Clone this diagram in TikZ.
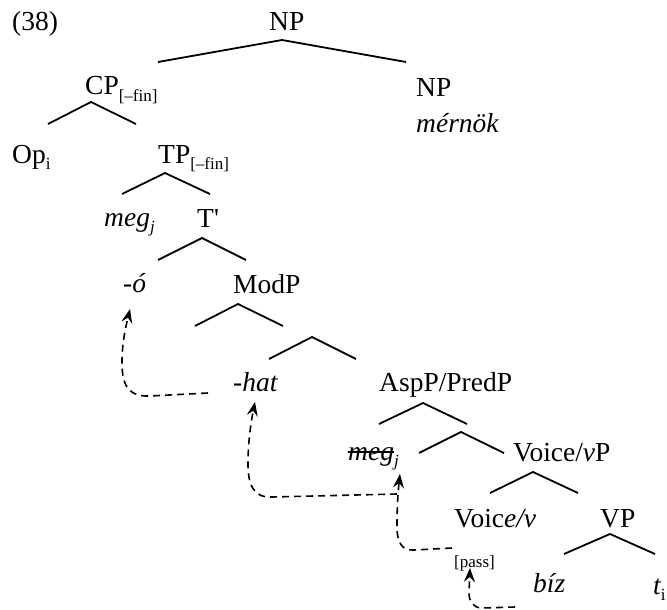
\documentclass[tikz,border=0pt]{standalone}
\usepackage{fontspec}
\setmainfont{Liberation Serif}
\usetikzlibrary{arrows.meta}
\newcommand\subsz[1]{\raisebox{-0.22em}{\fontsize{17}{17}\selectfont #1}}
\newcommand\strk[1]{\setbox0\hbox{#1}\rlap{\raisebox{0.26em}{\rule{\wd0}{1.5pt}}}\box0}
\newcommand\qsingle{{\addfontfeature{Ligatures=TeXOff}'}}
\begin{document}
\begin{tikzpicture}[x=1pt,y=-1pt,
  lbl/.style={anchor=base west,inner sep=0pt,font=\fontsize{27.5}{30}\selectfont},
  br/.style={line width=1.8pt},
  mv/.style={line width=1.6pt,dash pattern=on 7pt off 5pt,-{Stealth[length=14pt,width=11pt,inset=5pt]}}]
\useasboundingbox (0,0) rectangle (667,610);
% labels
\node[lbl] (ex) at (12,31) {(38)};
\node[lbl] (np) at (269,31) {NP};
\node[lbl] (cp) at (85,95) {CP\subsz{[–fin]}};
\node[lbl] (np2) at (416,96) {NP};
\node[lbl] (mer) at (416,132) {\itshape mérnök};
\node[lbl] (op) at (12,163) {Op\subsz{i}};
\node[lbl] (tp) at (158,163) {TP\subsz{[–fin]}};
\node[lbl] (meg1) at (104,226) {\itshape meg\subsz{j}};
\node[lbl] (tbar) at (197,227) {T\qsingle};
\node[lbl] (o) at (123,292) {\itshape -ó};
\node[lbl] (mod) at (233,293) {ModP};
\node[lbl] (hat) at (233,391) {\itshape -hat};
\node[lbl] (asp) at (379,391) {AspP/PredP};
\node[lbl] (meg2) at (348,460) {\itshape\strk{meg}\subsz{j}};
\node[lbl] (vop) at (513,461) {Voice/{\itshape v}P};
\node[lbl] (vo) at (454,527) {Voic{\itshape e/v}};
\node[lbl] (vp) at (600,527) {VP};
\node[lbl,font=\fontsize{17}{18}\selectfont] (pass) at (454,567) {[pass]};
\node[lbl] (biz) at (533,592) {\itshape bíz};
\node[lbl] (ti) at (653,594) {\itshape t\upshape\subsz{i}};
% branch coordinates
\coordinate (b1l) at (158,62);  \coordinate (b1t) at (282,40);  \coordinate (b1r) at (406,62);
\coordinate (b2l) at (48,124);  \coordinate (b2t) at (91,102);  \coordinate (b2r) at (136,124);
\coordinate (b3l) at (122,194); \coordinate (b3t) at (165,173); \coordinate (b3r) at (210,194);
\coordinate (b4l) at (158,260); \coordinate (b4t) at (202,238); \coordinate (b4r) at (246,260);
\coordinate (b5l) at (195,326); \coordinate (b5t) at (238,304); \coordinate (b5r) at (283,326);
\coordinate (b6l) at (269,359); \coordinate (b6t) at (312,337); \coordinate (b6r) at (356,359);
\coordinate (b7l) at (379,424); \coordinate (b7t) at (423,403); \coordinate (b7r) at (467,424);
\coordinate (b8l) at (419,453); \coordinate (b8t) at (461,432); \coordinate (b8r) at (504,453);
\coordinate (b9l) at (490,493); \coordinate (b9t) at (533,472); \coordinate (b9r) at (578,493);
\coordinate (b10l) at (564,554); \coordinate (b10t) at (610,534); \coordinate (b10r) at (655,554);
\foreach \i in {1,...,10} \draw[br] (b\i l) -- (b\i t) -- (b\i r);
% movement arrows
\coordinate (m1s) at (208,393); \coordinate (m1e) at (130,309);
\draw[mv] (m1s) -- (150,396) .. controls (126,397) and (122,382) .. (122,362) .. controls (122,342) and (126,326) .. (m1e);
\coordinate (m2s) at (397,494); \coordinate (m2e) at (255,402);
\draw[mv] (m2s) -- (272,497) .. controls (253,498) and (248,484) .. (248,464) .. controls (248,442) and (251,422) .. (m2e);
\coordinate (m3s) at (452,548); \coordinate (m3e) at (400,474);
\draw[mv] (m3s) -- (414,550) .. controls (401,551) and (397,541) .. (397,527) .. controls (397,508) and (398,492) .. (m3e);
\coordinate (m4s) at (515,607); \coordinate (m4e) at (470,568);
\draw[mv] (m4s) -- (482,608) .. controls (473,608) and (469,601) .. (469,593) -- (m4e);
\end{tikzpicture}
\end{document}
